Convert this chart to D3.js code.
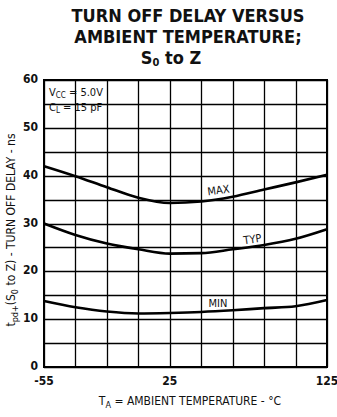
<!DOCTYPE html>
<html><head><meta charset="utf-8">
<script src="https://cdn.jsdelivr.net/npm/d3@7"></script>
<style>
body{margin:0;background:#fff;}
svg text{font-family:"Liberation Sans Narrow","DejaVu Sans Condensed","Arial Narrow",sans-serif;fill:#111;}
</style></head>
<body><svg id="c" width="337" height="417"></svg>
<script>
const temps = [-55, -35, -15, 5, 25, 45, 65, 85, 105, 125];
const maxDelay = [42.0, 39.9, 37.6, 35.4, 34.3, 34.6, 35.6, 37.1, 38.6, 40.2];
const typDelay = [30.0, 27.6, 25.8, 24.6, 23.7, 23.8, 24.6, 25.5, 26.8, 28.8];
const minDelay = [13.8, 12.5, 11.6, 11.2, 11.3, 11.5, 11.85, 12.3, 12.7, 14.0];
const xTickLabels = [-55, 25, 125];
const yTickLabels = [0, 10, 20, 30, 40, 50, 60];
const xGrid = [-55, -35, -15, 5, 25, 45, 65, 85, 105, 125];
const yGrid = [0, 5, 10, 15, 20, 25, 30, 35, 40, 45, 50, 55, 60];

const svg = d3.select("#c");
const x = d3.scaleLinear().domain([-55, 125]).range([44, 327]);
const y = d3.scaleLinear().domain([0, 60]).range([367, 80]);

// grid as a single path
let gd = "";
yGrid.forEach(v => { gd += `M${x(-55)},${Math.round(y(v)) + 0.5}H${x(125)}`; });
xGrid.forEach(v => { gd += `M${Math.round(x(v)) + 0.5},${y(0)}V${y(60)}`; });
svg.append("path").attr("d", gd).attr("fill", "none")
  .attr("stroke", "#000").attr("stroke-width", 1.3);

// frame
svg.append("rect").attr("x", x(-55)).attr("y", y(60))
  .attr("width", x(125) - x(-55)).attr("height", y(0) - y(60))
  .attr("fill", "none").attr("stroke", "#000").attr("stroke-width", 2);

// curves
const line = d3.line().x((d, i) => x(temps[i])).y(d => y(d)).curve(d3.curveMonotoneX);
[maxDelay, typDelay, minDelay].forEach(s => {
  svg.append("path").attr("d", line(s)).attr("fill", "none")
    .attr("stroke", "#000").attr("stroke-width", 2.6);
});

// tick labels
svg.append("g").selectAll("text").data(yTickLabels).join("text")
  .attr("x", 38).attr("y", d => y(d) + 3).attr("text-anchor", "end")
  .attr("font-size", 12).attr("font-weight", "bold").text(d => d);
svg.append("g").selectAll("text").data(xTickLabels).join("text")
  .attr("x", d => x(d)).attr("y", 385).attr("text-anchor", "middle")
  .attr("font-size", 12).attr("font-weight", "bold").text(d => d);

// title
const title = svg.append("text").attr("text-anchor", "middle")
  .attr("font-size", 18).attr("font-weight", "bold");
title.append("tspan").attr("x", 188).attr("y", 22).text("TURN OFF DELAY VERSUS");
title.append("tspan").attr("x", 188).attr("y", 43).text("AMBIENT TEMPERATURE;");
const t3 = svg.append("text").attr("text-anchor", "middle").attr("x", 171).attr("y", 64)
  .attr("font-size", 18).attr("font-weight", "bold");
t3.append("tspan").text("S");
t3.append("tspan").attr("font-size", 11).attr("dy", 2).text("0");
t3.append("tspan").attr("dy", -2).text(" to Z");

// conditions
const c1 = svg.append("text").attr("x", 49).attr("y", 96).attr("font-size", 11);
c1.append("tspan").text("V");
c1.append("tspan").attr("font-size", 8).attr("dy", 2).text("CC");
c1.append("tspan").attr("dy", -2).text(" = 5.0V");
const c2 = svg.append("text").attr("x", 49).attr("y", 111).attr("font-size", 11);
c2.append("tspan").text("C");
c2.append("tspan").attr("font-size", 8).attr("dy", 2).text("L");
c2.append("tspan").attr("dy", -2).text(" = 15 pF");

// series labels
svg.append("text").attr("x", 219).attr("y", 194).attr("text-anchor", "middle")
  .attr("font-size", 11).attr("transform", "rotate(-8,219,194)").text("MAX");
svg.append("text").attr("x", 253).attr("y", 243).attr("text-anchor", "middle")
  .attr("font-size", 11).attr("transform", "rotate(-8,253,243)").text("TYP");
svg.append("text").attr("x", 218).attr("y", 307).attr("text-anchor", "middle")
  .attr("font-size", 11).text("MIN");

// axis titles
const xt = svg.append("text").attr("x", 190).attr("y", 405).attr("text-anchor", "middle").attr("font-size", 12);
xt.append("tspan").text("T");
xt.append("tspan").attr("font-size", 9).attr("dy", 3).text("A");
xt.append("tspan").attr("dy", -3).text(" = AMBIENT TEMPERATURE  - °C");

const yt = svg.append("text").attr("transform", "translate(15,230) rotate(-90)")
  .attr("text-anchor", "middle").attr("font-size", 12);
yt.append("tspan").text("t");
yt.append("tspan").attr("font-size", 9).attr("dy", 3).text("pd+");
yt.append("tspan").attr("dy", -3).text("(S");
yt.append("tspan").attr("font-size", 9).attr("dy", 3).text("0");
yt.append("tspan").attr("dy", -3).text(" to Z) - TURN OFF DELAY - ns");
</script></body></html>
